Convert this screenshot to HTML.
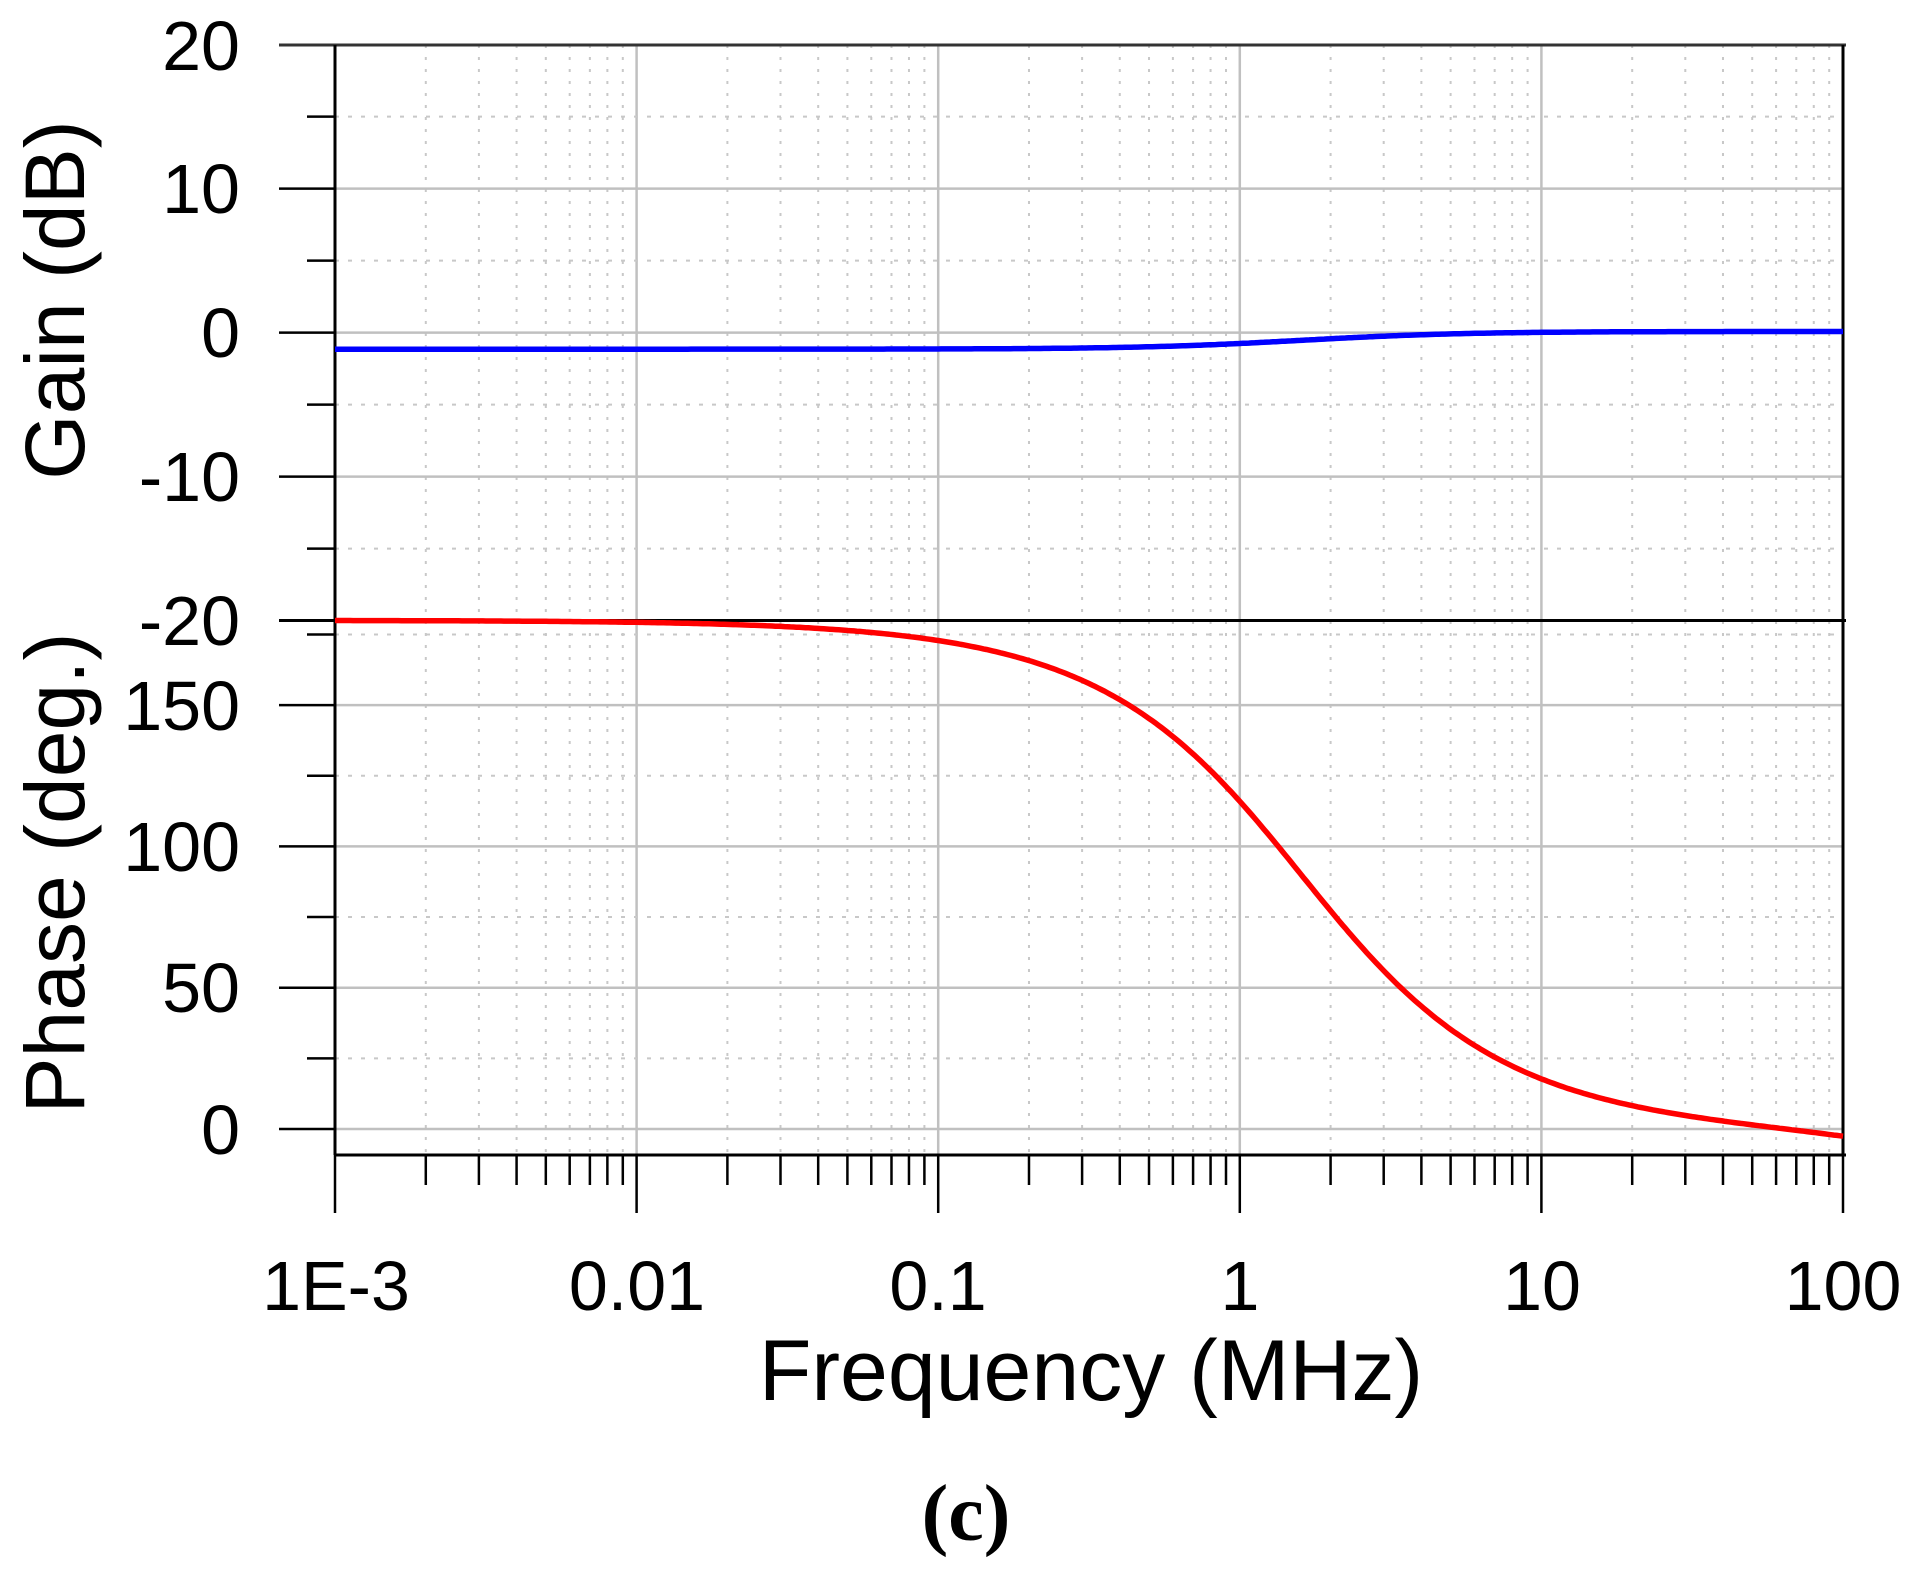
<!DOCTYPE html>
<html><head><meta charset="utf-8"><style>
html,body{margin:0;padding:0;background:#fff;}
svg{display:block;}
text{font-family:"Liberation Sans",Arial,sans-serif;fill:#000;}
</style></head><body>
<svg id="s" width="1914" height="1591" viewBox="0 0 1914 1591" xmlns="http://www.w3.org/2000/svg">
<g id="grid"></g>
<g id="axes"></g>
<g id="curves"></g>
<g id="labels" font-size="70">
<text x="240" y="70" text-anchor="end">20</text>
<text x="240" y="213" text-anchor="end">10</text>
<text x="240" y="357" text-anchor="end">0</text>
<text x="240" y="501" text-anchor="end">-10</text>
<text x="240" y="645" text-anchor="end">-20</text>
<text x="240" y="730" text-anchor="end">150</text>
<text x="240" y="871" text-anchor="end">100</text>
<text x="240" y="1012" text-anchor="end">50</text>
<text x="240" y="1154" text-anchor="end">0</text>
<text x="336" y="1310" text-anchor="middle">1E-3</text>
<text x="637" y="1310" text-anchor="middle">0.01</text>
<text x="938" y="1310" text-anchor="middle">0.1</text>
<text x="1240" y="1310" text-anchor="middle">1</text>
<text x="1542" y="1310" text-anchor="middle">10</text>
<text x="1843" y="1310" text-anchor="middle">100</text>
</g>
<text x="1091" y="1400" font-size="86" text-anchor="middle">Frequency (MHz)</text>
<text transform="translate(84,300) rotate(-90)" font-size="84" text-anchor="middle">Gain (dB)</text>
<text transform="translate(84,873) rotate(-90)" font-size="84" text-anchor="middle">Phase (deg.)</text>
<text x="966" y="1540" font-size="80" font-weight="bold" text-anchor="middle" style="font-family:'Liberation Serif',serif">(c)</text>
</svg>
<script>
var NS="http://www.w3.org/2000/svg";
function el(p,t,a){var e=document.createElementNS(NS,t);for(var k in a)e.setAttribute(k,a[k]);document.getElementById(p).appendChild(e);return e;}
var X0=335,DEC=301.6,XR=1843,YT=45,YM=620.5,YB=1155;
function xf(f){return X0+(Math.log10(f)+3)*DEC;}
function yg(g){return 332.6-g*14.4;}
function yp(p){return 1129-p*2.826;}
for(var d=-3;d<2;d++){for(var m=2;m<=9;m++){var x=xf(m*Math.pow(10,d));
 el("grid","line",{x1:x,y1:YT,x2:x,y2:YB,stroke:"#c8c8c8","stroke-width":2,"stroke-dasharray":"3,9"});
 el("axes","line",{x1:x,y1:YB,x2:x,y2:1185,stroke:"#000","stroke-width":2.5});}
}
for(var d=-2;d<2;d++){var x=xf(Math.pow(10,d));el("grid","line",{x1:x,y1:YT,x2:x,y2:YB,stroke:"#c0c0c0","stroke-width":2.5});}
for(var d=-3;d<=2;d++){var x=xf(Math.pow(10,d));el("axes","line",{x1:x,y1:YB,x2:x,y2:1213,stroke:"#000","stroke-width":2.5});}
[15,5,-5,-15].forEach(function(g){var y=yg(g);el("grid","line",{x1:X0,y1:y,x2:XR,y2:y,stroke:"#c8c8c8","stroke-width":2,"stroke-dasharray":"4,9"});el("axes","line",{x1:307,y1:y,x2:X0,y2:y,stroke:"#000","stroke-width":2.5});});
[10,0,-10].forEach(function(g){var y=yg(g);el("grid","line",{x1:X0,y1:y,x2:XR,y2:y,stroke:"#c0c0c0","stroke-width":2.5});el("axes","line",{x1:279,y1:y,x2:X0,y2:y,stroke:"#000","stroke-width":2.5});});
[175,125,75,25].forEach(function(p){var y=yp(p);el("grid","line",{x1:X0,y1:y,x2:XR,y2:y,stroke:"#c8c8c8","stroke-width":2,"stroke-dasharray":"4,9"});el("axes","line",{x1:307,y1:y,x2:X0,y2:y,stroke:"#000","stroke-width":2.5});});
[150,100,50,0].forEach(function(p){var y=yp(p);el("grid","line",{x1:X0,y1:y,x2:XR,y2:y,stroke:"#c0c0c0","stroke-width":2.5});el("axes","line",{x1:279,y1:y,x2:X0,y2:y,stroke:"#000","stroke-width":2.5});});
el("axes","line",{x1:279,y1:YT,x2:1846,y2:YT,stroke:"#333","stroke-width":3});
el("axes","line",{x1:279,y1:YM,x2:1846,y2:YM,stroke:"#000","stroke-width":3});
el("axes","line",{x1:X0,y1:YB,x2:1846,y2:YB,stroke:"#000","stroke-width":3});
el("axes","line",{x1:X0,y1:YT,x2:X0,y2:YB,stroke:"#000","stroke-width":3});
el("axes","line",{x1:XR,y1:YT,x2:XR,y2:YB,stroke:"#000","stroke-width":3});
var R=180/Math.PI,dp=[],dg=[];
for(var i=0;i<=500;i++){var lf=-3+5*i/500,f=Math.pow(10,lf),x=xf(f);
 var ph=180-R*(2*Math.atan(f/1.6)+Math.atan(f/1300));
 var g=-1.15+1.23/(1+Math.pow(1.6/f,1.6));
 dp.push(x.toFixed(1)+","+yp(ph).toFixed(1));dg.push(x.toFixed(1)+","+yg(g).toFixed(1));}
el("curves","path",{d:"M"+dp.join("L"),fill:"none",stroke:"#f00","stroke-width":5.5});
el("curves","path",{d:"M"+dg.join("L"),fill:"none",stroke:"#00f","stroke-width":5.5});
</script>
</body></html>
